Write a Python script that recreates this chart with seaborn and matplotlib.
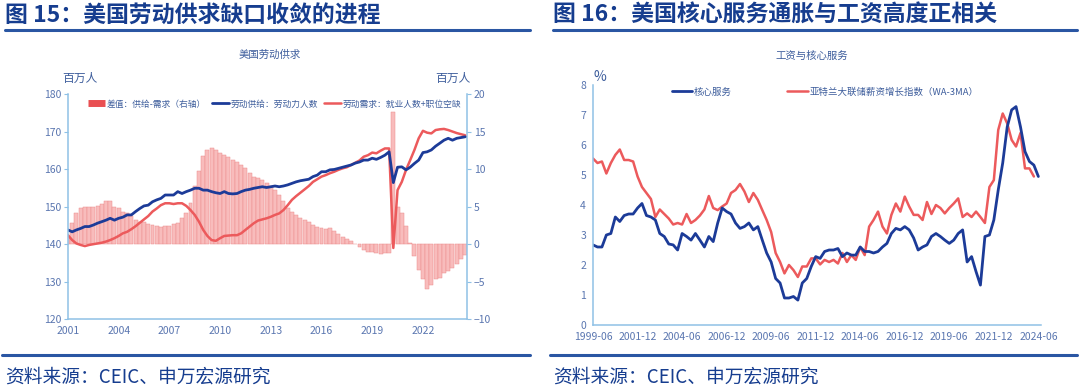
import numpy as np
import pandas as pd
import seaborn as sns
from matplotlib import pyplot as plt
from matplotlib.lines import Line2D
import matplotlib.dates as mdates

# ---- left chart: US labour supply vs demand (quarterly, million people)
labor_supply = [143.8, 143.3, 143.8, 144.2, 144.7, 144.7, 145.1, 145.6, 146.0, 146.4,
                146.9, 146.4, 146.9, 147.2, 147.8, 147.8, 148.7, 149.5, 150.2, 150.4,
                151.3, 151.8, 152.2, 153.1, 153.1, 153.1, 154.0, 153.5, 154.0, 154.4,
                154.9, 154.9, 154.4, 154.4, 154.0, 153.7, 153.5, 154.0, 153.5, 153.4,
                153.5, 154.0, 154.4, 154.6, 154.9, 155.1, 155.3, 155.1, 155.3, 155.5,
                155.3, 155.5, 155.8, 156.2, 156.6, 156.9, 157.1, 157.3, 158.0, 158.4,
                159.3, 159.3, 159.8, 159.9, 160.2, 160.5, 160.8, 161.1, 161.6, 161.9,
                162.4, 162.4, 162.9, 162.6, 163.1, 163.7, 164.6, 156.4, 160.5, 160.6,
                159.8, 160.5, 161.5, 162.4, 164.4, 164.6, 165.1, 166.1, 166.9, 167.7,
                168.2, 167.7, 168.2, 168.4, 168.6]
labor_demand = [142.4, 141.1, 140.2, 139.8, 139.5, 139.8, 140.0, 140.2, 140.4, 140.7,
                141.1, 141.6, 142.2, 142.9, 143.3, 144.0, 144.8, 145.7, 146.6, 147.5,
                148.7, 149.5, 150.4, 150.9, 150.9, 150.7, 150.9, 150.9, 150.2, 149.1,
                147.8, 146.0, 143.8, 142.2, 141.1, 140.9, 141.6, 142.2, 142.3, 142.4,
                142.4, 142.9, 143.8, 144.7, 145.6, 146.3, 146.6, 146.9, 147.3, 147.8,
                148.2, 149.1, 150.4, 151.8, 152.8, 153.7, 154.6, 155.5, 156.6, 157.3,
                158.0, 158.4, 158.9, 159.3, 159.8, 160.2, 160.5, 161.1, 161.7, 162.3,
                163.3, 163.7, 164.4, 164.2, 164.9, 165.5, 165.5, 139.0, 154.4, 156.6,
                159.8, 162.4, 165.1, 168.2, 170.2, 169.7, 169.5, 170.4, 170.6, 170.7,
                170.4, 170.0, 169.6, 169.3, 169.0]
labor_gap = [1.0, 2.8, 4.1, 4.8, 4.9, 5.0, 4.9, 5.1, 5.4, 5.8,
             5.7, 5.0, 4.8, 4.3, 4.1, 3.7, 3.2, 3.0, 2.9, 2.7,
             2.6, 2.4, 2.3, 2.4, 2.4, 2.7, 2.8, 3.5, 4.1, 5.5,
             7.7, 9.7, 11.7, 12.6, 12.8, 12.5, 12.1, 11.9, 11.6, 11.2,
             11.0, 10.6, 10.1, 9.5, 9.0, 8.8, 8.6, 8.1, 7.7, 7.2,
             6.6, 5.7, 4.8, 4.3, 3.9, 3.5, 3.2, 2.9, 2.6, 2.3,
             2.1, 2.0, 2.1, 1.7, 1.4, 1.0, 0.7, 0.4, 0.0, -0.4,
             -0.8, -1.0, -1.1, -1.2, -1.3, -1.2, -1.2, 17.6, 5.0, 4.1,
             2.4, 0.1, -1.6, -3.4, -4.7, -5.9, -5.4, -4.7, -4.5, -3.9,
             -3.6, -3.2, -2.7, -2.0, -1.4]
left_dates = pd.date_range('2001-01-01', periods=len(labor_supply), freq='QS')

# ---- right chart: core services inflation vs Atlanta Fed wage tracker (quarterly, %)
core_services = [2.67, 2.6, 2.6, 3.0, 3.05, 3.6, 3.45, 3.65, 3.7, 3.7,
                 3.9, 4.05, 3.65, 3.6, 3.5, 3.05, 2.95, 2.7, 2.67, 2.5,
                 3.05, 2.95, 2.83, 3.05, 2.83, 2.6, 2.95, 2.78, 3.4, 3.9,
                 3.78, 3.7, 3.4, 3.22, 3.28, 3.4, 3.17, 3.28, 2.83, 2.4,
                 2.1, 1.55, 1.4, 0.9, 0.9, 0.95, 0.83, 1.4, 1.55, 1.95,
                 2.28, 2.22, 2.45, 2.5, 2.5, 2.55, 2.28, 2.4, 2.33, 2.33,
                 2.6, 2.45, 2.45, 2.4, 2.45, 2.6, 2.72, 3.05, 3.22, 3.17,
                 3.28, 3.17, 2.9, 2.5, 2.6, 2.67, 2.95, 3.05, 2.95, 2.83,
                 2.72, 2.83, 3.05, 3.17, 2.1, 2.28, 1.78, 1.33, 2.95, 3.0,
                 3.5, 4.5, 5.4, 6.6, 7.17, 7.28, 6.6, 5.78, 5.45, 5.33, 4.95]
wage_tracker = [5.55, 5.4, 5.45, 5.05, 5.4, 5.67, 5.85, 5.5, 5.5, 5.45,
                4.95, 4.6, 4.4, 4.2, 3.6, 3.85, 3.7, 3.55, 3.35, 3.4,
                3.35, 3.7, 3.4, 3.5, 3.65, 3.85, 4.3, 3.9, 3.83, 3.95,
                4.05, 4.4, 4.5, 4.7, 4.45, 4.1, 4.4, 4.17, 3.83, 3.5,
                3.1, 2.4, 2.1, 1.72, 2.0, 1.83, 1.6, 1.95, 1.95, 2.22,
                2.22, 2.02, 2.17, 2.1, 2.17, 2.05, 2.4, 2.1, 2.33, 2.17,
                2.6, 2.33, 3.28, 3.5, 3.78, 3.28, 3.05, 3.67, 4.05, 3.78,
                4.28, 3.95, 3.67, 3.67, 3.5, 4.1, 3.7, 4.0, 3.9, 3.72,
                3.9, 4.05, 4.22, 3.6, 3.72, 3.6, 3.78, 3.6, 3.4, 4.6,
                4.83, 6.5, 7.05, 6.72, 6.17, 5.95, 6.4, 5.22, 5.22, 4.95]
core_dates = pd.date_range('1999-06-01', periods=len(core_services), freq='3MS')
wage_dates = pd.date_range('1999-06-01', periods=len(wage_tracker), freq='3MS')

left_ticks = pd.date_range('2001-01-01', '2022-01-01', freq='3YS')
right_ticks = pd.date_range('1999-06-01', '2024-06-01', freq='30MS')

sns.set_theme(style='white')
plt.rcParams['font.family'] = ['Noto Sans CJK SC', 'DejaVu Sans']

W, H = 1080, 390
NAVY = '#163d8f'
AXIS = '#8fc1e6'
TICK = '#5a76b0'
BLUE = '#1c3b98'
RED = '#ec5a5c'
BAR = '#f8bcbc'


def fx(x):
    return x / W


def fy(y):
    return 1 - y / H


fig = plt.figure(figsize=(W / 100, H / 100), dpi=100)
fig.patch.set_facecolor('white')

# headers, rules and sources
for x0, x1, title in [(5, 530, '图 15：美国劳动供求缺口收敛的进程'),
                      (553, 1077, '图 16：美国核心服务通胀与工资高度正相关')]:
    fig.text(fx(x0), fy(15), title, fontsize=16.5, fontweight='bold', color=NAVY,
             va='center', ha='left')
    fig.add_artist(Line2D([fx(x0), fx(x1)], [fy(30), fy(30)], color='#2a56a3', lw=2.2))
    fig.add_artist(Line2D([fx(x0 - 3), fx(x1)], [fy(355), fy(355)], color='#2a56a3', lw=2.2))
    fig.text(fx(x0), fy(377), '资料来源：CEIC、申万宏源研究', fontsize=13.5, color=NAVY,
             va='center', ha='left')


def style_axis(ax):
    for s in ax.spines.values():
        s.set_color(AXIS)
        s.set_linewidth(1.1)
    ax.spines['top'].set_visible(False)
    ax.tick_params(axis='both', direction='out', length=3, width=0.8, color=AXIS,
                   labelcolor=TICK, labelsize=7.5, pad=2)
    ax.grid(False)
    ax.set_xlabel('')
    ax.set_ylabel('')


# ---- left chart
ax1 = fig.add_axes([fx(68), fy(319.3), fx(467 - 68), fy(94) - fy(319.3)])
ax1b = ax1.twinx()
ax1b.bar(left_dates, labor_gap, width=86, color=BAR, edgecolor='#ec8c8c', linewidth=0.35)
ax1b.set_ylim(-10, 20)
ax1b.set_yticks(range(-10, 21, 5))
sns.lineplot(x=left_dates, y=labor_demand, ax=ax1, color=RED, lw=1.8)
sns.lineplot(x=left_dates, y=labor_supply, ax=ax1, color=BLUE, lw=2.0)
ax1.set_zorder(ax1b.get_zorder() + 1)
ax1.patch.set_visible(False)
ax1.set_ylim(120, 180)
ax1.set_yticks(range(120, 181, 10))
ax1.set_xlim(pd.Timestamp('2001-01-01'), pd.Timestamp('2024-08-10'))
ax1.set_xticks(left_ticks)
ax1.xaxis.set_major_formatter(mdates.DateFormatter('%Y'))
style_axis(ax1)
style_axis(ax1b)
ax1.spines['right'].set_visible(False)
ax1b.spines['left'].set_visible(False)
ax1b.spines['bottom'].set_visible(False)

fig.text(fx(270), fy(55), '美国劳动供求', fontsize=7.5, color='#3d5d9c', ha='center', va='center')
fig.text(fx(62), fy(78), '百万人', fontsize=8.5, color='#3d5d9c', ha='left', va='center')
fig.text(fx(471), fy(78), '百万人', fontsize=8.5, color='#3d5d9c', ha='right', va='center')

handles = [Line2D([], [], color='#e94f52', lw=5, solid_capstyle='butt'),
           Line2D([], [], color=BLUE, lw=2),
           Line2D([], [], color=RED, lw=1.8)]
labels = ['差值：供给-需求（右轴）', '劳动供给：劳动力人数', '劳动需求：就业人数+职位空缺']
ax1.legend(handles, labels, loc='center left', bbox_to_anchor=(fx(80), fy(104)),
           bbox_transform=fig.transFigure, ncol=3, frameon=False, fontsize=6.3,
           handlelength=2.0, handletextpad=0.2, columnspacing=0.6, labelcolor='#3d5d9c')

# ---- right chart
ax2 = fig.add_axes([fx(593), fy(325), fx(1041 - 593), fy(85) - fy(325)])
sns.lineplot(x=wage_dates, y=wage_tracker, ax=ax2, color=RED, lw=1.8)
sns.lineplot(x=core_dates, y=core_services, ax=ax2, color=BLUE, lw=2.0)
ax2.set_ylim(0, 8)
ax2.set_yticks(range(0, 9))
ax2.set_xlim(pd.Timestamp('1999-06-01'), pd.Timestamp('2024-07-25'))
ax2.set_xticks(right_ticks)
ax2.xaxis.set_major_formatter(mdates.DateFormatter('%Y-%m'))
style_axis(ax2)
ax2.spines['right'].set_visible(False)

fig.text(fx(812), fy(56), '工资与核心服务', fontsize=7.5, color='#3d5d9c', ha='center', va='center')
fig.text(fx(594), fy(77), '%', fontsize=10, color='#3d5d9c', ha='left', va='center')
handles2 = [Line2D([], [], color=BLUE, lw=2), Line2D([], [], color=RED, lw=1.8)]
labels2 = ['核心服务', '亚特兰大联储薪资增长指数（WA-3MA）']
ax2.legend(handles2, labels2, loc='center left', bbox_to_anchor=(fx(663), fy(92)),
           bbox_transform=fig.transFigure, ncol=2, frameon=False, fontsize=6.8,
           handlelength=2.2, handletextpad=0.2, columnspacing=5.8, labelcolor='#3d5d9c')

fig.savefig('out.png', dpi=100, facecolor='white')
